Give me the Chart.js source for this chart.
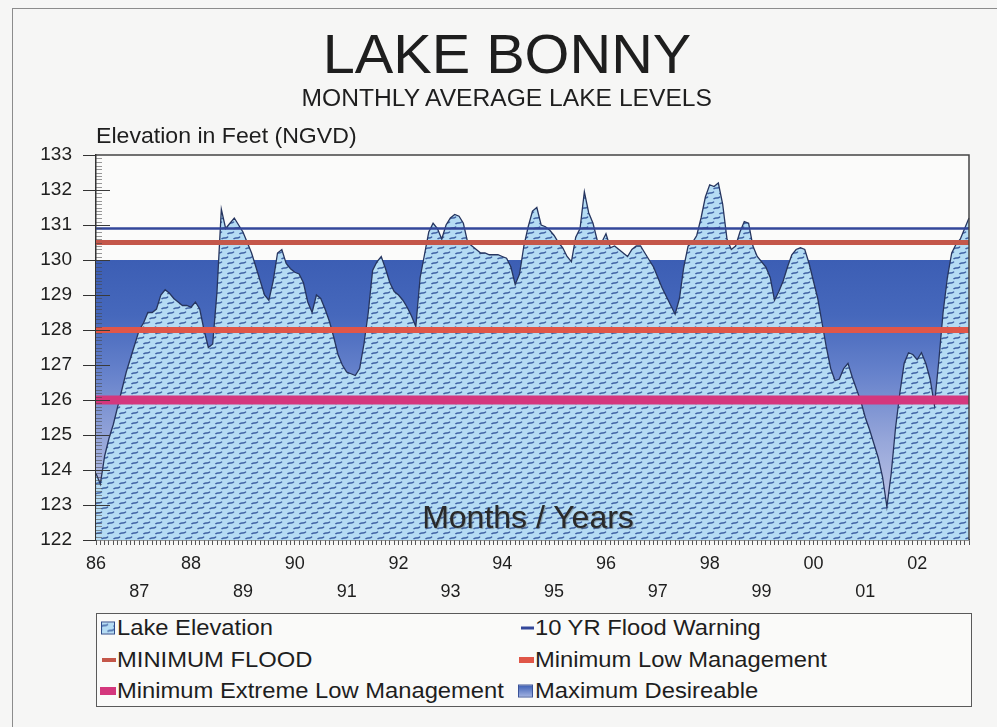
<!DOCTYPE html>
<html>
<head>
<meta charset="utf-8">
<title>Lake Bonny</title>
<script src="https://cdn.jsdelivr.net/npm/chart.js@4.4.1/dist/chart.umd.min.js"></script>
<style>
  html, body { margin: 0; padding: 0; background: #f6f6f5; }
  #wrap { position: relative; width: 997px; height: 727px; overflow: hidden;
          font-family: "Liberation Sans", Arial, sans-serif; color: #1e1e1e; }
  #frame { position: absolute; left: 12px; top: 8px; width: 1000px; height: 740px;
           border-left: 1.5px solid #8c8c8c; border-top: 1.5px solid #8c8c8c; }
  #chart { position: absolute; left: 0; top: 0; }
  .txt { position: absolute; white-space: nowrap; line-height: 1; }
  #title { left: 0; width: 1014px; top: 26px; text-align: center; font-size: 56px; }
  #subtitle { left: 0; width: 1014px; top: 87px; text-align: center; font-size: 23px; }
  #subtitle span, #title span { display: inline-block; }
  #ycap { left: 96px; top: 125px; font-size: 22px; transform: scaleX(1.05); transform-origin: left top; }
  #xcap { left: 0; width: 1056px; top: 501px; text-align: center; font-size: 32px; color: #2a2a2a;
          text-shadow: 1px 1px 1px rgba(60,60,60,0.4); }
  #legend { position: absolute; left: 96px; top: 613px; width: 874px; height: 92px;
            border: 1.5px solid #5a5a5a; background: #fafaf9; }
  .item { position: absolute; height: 22px; }
  .mark { position: absolute; top: 50%; transform: translateY(-50%); }
  .label { position: absolute; top: 0; font-size: 22px; line-height: 22px; white-space: nowrap;
           transform: scaleX(1.08); transform-origin: left center; }
</style>
</head>
<body>
<div id="wrap">
  <div id="frame"></div>
  <canvas id="chart" width="997" height="727"></canvas>
  <div id="title" class="txt"><span style="transform:scaleX(1.03)">LAKE BONNY</span></div>
  <div id="subtitle" class="txt"><span style="transform:scaleX(1.07)">MONTHLY AVERAGE LAKE LEVELS</span></div>
  <div id="ycap" class="txt">Elevation in Feet (NGVD)</div>
  <div id="xcap" class="txt">Months / Years</div>
  <div id="legend"></div>
</div>
<script>
// 月平均水位（英尺, NGVD），1986年3月起
const START_YEAR = 1986;
const START_MONTH = 3;
const lakeLevels = [
  123.9, 123.6, 124.4, 124.9, 125.3, 125.8, 126.3, 126.8, 127.2, 127.6,
  128.0, 128.2, 128.5, 128.5, 128.6, 129.0, 129.15, 129.05, 128.9, 128.8,
  128.7, 128.7, 128.65, 128.8, 128.6, 128.0, 127.5, 127.6, 129.1, 131.45,
  130.9, 131.05, 131.2, 131.0, 130.8, 130.5, 130.2, 129.8, 129.4, 129.0,
  128.85, 129.4, 130.2, 130.3, 129.9, 129.75, 129.65, 129.6, 129.35, 128.8,
  128.5, 129.0, 128.9, 128.6, 128.25, 127.8, 127.3, 127.0, 126.8, 126.75,
  126.7, 126.9, 127.6, 128.5, 129.7, 129.95, 130.1, 129.75, 129.35, 129.1,
  129.0, 128.85, 128.65, 128.4, 128.1, 129.5, 130.15, 130.8, 131.05, 130.9,
  130.6, 131.0, 131.2, 131.3, 131.25, 131.05, 130.5, 130.4, 130.3, 130.2,
  130.2, 130.15, 130.15, 130.15, 130.1, 130.05, 129.8, 129.3, 129.6, 130.4,
  130.95, 131.4, 131.5, 131.0, 130.95, 130.85, 130.7, 130.5, 130.35, 130.1,
  129.95, 130.65, 130.9, 131.95, 131.35, 131.05, 130.55, 130.5, 130.75, 130.35,
  130.4, 130.3, 130.2, 130.1, 130.3, 130.4, 130.4, 130.2, 130.0, 129.8,
  129.5, 129.2, 128.95, 128.7, 128.45, 128.9, 129.8, 130.4, 130.5, 130.7,
  131.2, 131.8, 132.15, 132.1, 132.2, 131.6, 130.6, 130.3, 130.4, 130.8,
  131.1, 131.05, 130.4, 130.1, 129.95, 129.8, 129.5, 128.85, 129.1, 129.4,
  129.8, 130.15, 130.3, 130.35, 130.3, 129.9, 129.4, 128.9, 128.2, 127.5,
  126.9, 126.55, 126.6, 126.9, 127.05, 126.65, 126.3, 125.95, 125.5, 125.15,
  124.75, 124.35, 123.8, 122.95, 123.9, 125.2, 126.2, 127.05, 127.35, 127.3,
  127.15, 127.35, 127.05, 126.6, 125.85, 127.1, 128.5, 129.5, 130.2, 130.45,
  130.6, 130.9, 131.2
];

// 参考水位
const floodWarning10yr = 130.9;
const minimumFlood = 130.5;
const minLowManagement = 128;
const minExtremeLowManagement = 126;
const maxDesireable = 130;

// 坐标轴
const yMin = 122;
const yMax = 133;

// 月份类别
const monthLabels = lakeLevels.map((_, i) => {
  const m = START_MONTH - 1 + i;
  const year = START_YEAR + Math.floor(m / 12);
  return year + '-' + String(m % 12 + 1).padStart(2, '0');
});

const FONT = '"Liberation Sans", Arial, sans-serif';

// 湖水位填充图案
function makePatternTile() {
  const c = document.createElement('canvas');
  c.width = 12; c.height = 10;
  const g = c.getContext('2d');
  g.fillStyle = '#b5dcf4';
  g.fillRect(0, 0, 12, 10);
  g.strokeStyle = '#3f61a3';
  g.lineWidth = 1.4;
  const marks = [[0, 3], [6, 8], [-6, 8], [12, 3]];
  marks.forEach(([x, y]) => {
    g.beginPath();
    g.moveTo(x - 0.5, y + 1.2);
    g.bezierCurveTo(x + 1.5, y - 1.8, x + 3.5, y + 1.8, x + 6, y - 1.4);
    g.stroke();
  });
  return c;
}
const tile = makePatternTile();
const lakePattern = document.getElementById('chart').getContext('2d').createPattern(tile, 'repeat');

function desireGradient(context) {
  const { chart } = context;
  const a = chart.chartArea;
  if (!a) return '#4a6cbe';
  const y = chart.scales.y;
  const g = chart.ctx.createLinearGradient(0, y.getPixelForValue(maxDesireable), 0, a.bottom);
  g.addColorStop(0, '#3c5eb4');
  g.addColorStop(0.2, '#4668bc');
  g.addColorStop(0.4, '#6581cb');
  g.addColorStop(0.65, '#97a7da');
  g.addColorStop(0.88, '#bcc4e6');
  g.addColorStop(1, '#cbd1ec');
  return g;
}

function levelLine(value) {
  return [{ x: monthLabels[0], y: value }, { x: monthLabels[monthLabels.length - 1], y: value }];
}

// 坐标轴装饰：绘图区背景、内侧刻度、外框
const axisDecor = {
  id: 'axisDecor',
  beforeDraw(chart) {
    const { ctx, chartArea: a } = chart;
    ctx.save();
    ctx.fillStyle = '#fbfbfa';
    ctx.fillRect(a.left, a.top, a.right - a.left, a.bottom - a.top);
    ctx.restore();
  },
  afterDraw(chart) {
    const { ctx, chartArea: a, scales: { y } } = chart;
    ctx.save();
    for (let k = 1; k < (yMax - yMin) * 10; k++) {
      const py = Math.round(y.getPixelForValue(yMin + k / 10)) + 0.5;
      const major = k % 10 === 0;
      ctx.strokeStyle = major ? '#3a3a3a' : 'rgba(70,70,70,0.55)';
      ctx.lineWidth = 1;
      ctx.beginPath();
      ctx.moveTo(a.left, py);
      ctx.lineTo(a.left + (major ? 14 : 6), py);
      ctx.stroke();
    }
    ctx.strokeStyle = '#444';
    ctx.lineWidth = 1.5;
    ctx.beginPath();
    ctx.moveTo(a.left, a.top);
    ctx.lineTo(a.right, a.top);
    ctx.lineTo(a.right, a.bottom);
    ctx.stroke();
    ctx.restore();
  }
};

const chart = new Chart(document.getElementById('chart'), {
  type: 'line',
  data: {
    labels: monthLabels,
    datasets: [
      {
        label: '10 YR Flood Warning',
        data: levelLine(floodWarning10yr),
        borderColor: '#33479a', borderWidth: 2.5, pointRadius: 0, fill: false, order: 0
      },
      {
        label: 'MINIMUM FLOOD',
        data: levelLine(minimumFlood),
        borderColor: '#c4574a', borderWidth: 5, pointRadius: 0, fill: false, order: 0
      },
      {
        label: 'Minimum Low Management',
        data: levelLine(minLowManagement),
        borderColor: '#e05648', borderWidth: 6, pointRadius: 0, fill: false, order: 0
      },
      {
        label: 'Minimum Extreme Low Management',
        data: levelLine(minExtremeLowManagement),
        borderColor: '#d4377d', borderWidth: 9, pointRadius: 0, fill: false, order: 0
      },
      {
        label: 'Lake Elevation',
        data: lakeLevels,
        borderColor: '#26355f', borderWidth: 1.3, backgroundColor: lakePattern,
        pointRadius: 0, tension: 0, fill: 'start', order: 1
      },
      {
        label: 'Maximum Desireable',
        data: levelLine(maxDesireable),
        borderColor: 'rgba(0,0,0,0)', borderWidth: 0, backgroundColor: desireGradient,
        pointRadius: 0, fill: 'start', order: 2
      }
    ]
  },
  options: {
    responsive: false,
    animation: false,
    devicePixelRatio: 1,
    layout: { padding: { left: 0, top: 155, right: 28, bottom: 127 } },
    plugins: { legend: { display: false }, tooltip: { enabled: false }, title: { display: false } },
    scales: {
      x: {
        type: 'category',
        offset: false,
        afterFit(scale) { scale.height = 60; },
        grid: { drawOnChartArea: false, drawTicks: true, tickLength: 5, color: '#555', lineWidth: 1 },
        border: { display: true, color: '#333', width: 1.5 },
        ticks: {
          autoSkip: false, maxRotation: 0, minRotation: 0, padding: 5,
          color: '#1e1e1e', font: { family: FONT, size: 18, lineHeight: 1.55 },
          callback(value, index, ticks) {
            const lab = this.getLabelForValue(value);
            const year = Number(lab.slice(0, 4));
            if (index === ticks.length - 1) return '';
            if (index !== 0 && lab.slice(5) !== '01') return '';
            const yy = String(year % 100).padStart(2, '0');
            return year % 2 === 0 ? [yy, ''] : ['', yy];
          }
        }
      },
      y: {
        min: yMin, max: yMax,
        afterFit(scale) { scale.width = 96; },
        grid: { drawOnChartArea: false, drawTicks: true, tickLength: 13, color: '#333', lineWidth: 1 },
        border: { display: true, color: '#333', width: 1.5 },
        ticks: { stepSize: 1, padding: 11, color: '#1e1e1e', font: { family: FONT, size: 19 } }
      }
    }
  },
  plugins: [axisDecor]
});

// 图例（两列）
const legendLayout = [
  { label: 'Lake Elevation', col: 0, row: 0, mark: 'pattern' },
  { label: '10 YR Flood Warning', col: 1, row: 0, mark: 'line', w: 13, h: 3 },
  { label: 'MINIMUM FLOOD', col: 0, row: 1, mark: 'line', w: 14, h: 4 },
  { label: 'Minimum Low Management', col: 1, row: 1, mark: 'line', w: 15, h: 6 },
  { label: 'Minimum Extreme Low Management', col: 0, row: 2, mark: 'line', w: 16, h: 8 },
  { label: 'Maximum Desireable', col: 1, row: 2, mark: 'gradient' }
];
const legendEl = document.getElementById('legend');
const colX = [3, 421];
legendLayout.forEach(item => {
  const ds = chart.data.datasets.find(d => d.label === item.label);
  const div = document.createElement('div');
  div.className = 'item';
  div.style.left = colX[item.col] + 'px';
  div.style.top = (3 + item.row * 31.5) + 'px';
  const mark = document.createElement('span');
  mark.className = 'mark';
  if (item.mark === 'pattern') {
    mark.style.cssText = 'left:1px;width:12px;height:11px;border:1px solid #2e4d8c;background-image:url(' +
      tile.toDataURL() + ')';
  } else if (item.mark === 'gradient') {
    mark.style.cssText = 'left:0;width:13px;height:11px;border:1px solid #3a5298;' +
      'background:linear-gradient(#3f61b6,#9fb0e0)';
  } else {
    mark.style.cssText = 'left:' + (16 - item.w) + 'px;width:' + item.w + 'px;height:' + item.h +
      'px;background:' + ds.borderColor;
  }
  const text = document.createElement('span');
  text.className = 'label';
  text.style.left = '17px';
  text.textContent = item.label;
  div.appendChild(mark);
  div.appendChild(text);
  legendEl.appendChild(div);
});
</script>
</body>
</html>
